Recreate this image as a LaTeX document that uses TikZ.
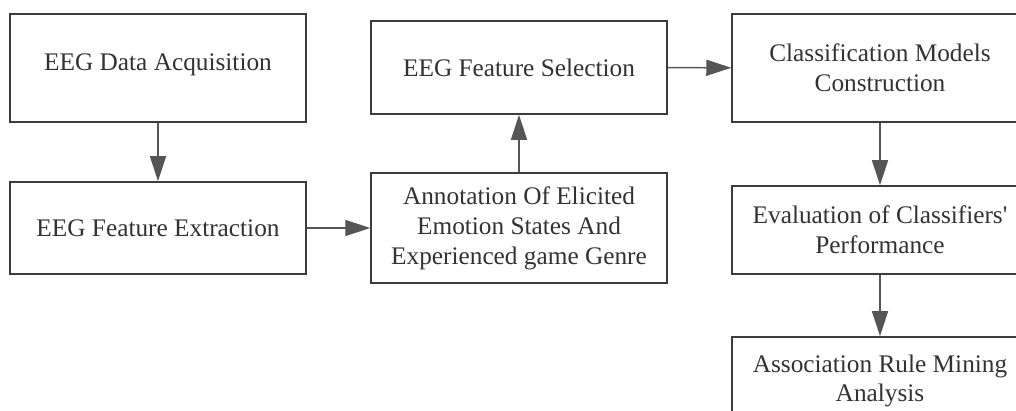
\documentclass[tikz,border=0pt]{standalone}
\usepackage{fontspec}
\setmainfont{Liberation Serif}[Ligatures=TeXOff]
\usetikzlibrary{arrows.meta}

\definecolor{lineColor}{RGB}{85,85,85}
\definecolor{boxColor}{RGB}{60,60,60}
\definecolor{textColor}{RGB}{50,50,50}

\begin{document}
\begin{tikzpicture}[x=0.02cm,y=-0.02cm,
  block/.style={draw=boxColor,line width=0.9pt,minimum width=5.92cm,inner sep=0pt,
    align=center,text=textColor,font=\fontsize{14.4}{17}\selectfont},
  flow/.style={draw=lineColor,line width=0.85pt,-{Triangle[length=0.5cm,width=0.32cm]}}]
  \useasboundingbox (0,0) rectangle (1016,411);
  % Blocks
  \node[block,minimum height=2.16cm,text depth=0.25cm] (acq) at (158,68) {EEG Data Acquisition};
  \node[block,minimum height=1.84cm] (extr) at (158,228) {EEG Feature Extraction};
  \node[block,minimum height=1.86cm] (sel) at (519,67.5) {EEG Feature Selection};
  \node[block,minimum height=2.2cm] (annot) at (519,228) {Annotation Of Elicited\\Emotion States And\\Experienced game Genre};
  \node[block,minimum height=2.16cm] (cls) at (880,68) {Classification Models\\Construction};
  \node[block,minimum height=1.76cm] (eval) at (880,230) {Evaluation of Classifiers'\\Performance};
  \node[block,minimum height=1.76cm] (assoc) at (880,381) {Association Rule Mining\\Analysis};
  % Arrows
  \draw[flow] (acq) -- (extr);
  \draw[flow] (extr) -- (annot);
  \draw[flow] (annot) -- (sel);
  \draw[flow] (sel) -- (cls);
  \draw[flow] (cls) -- (eval);
  \draw[flow] (eval) -- (assoc);
\end{tikzpicture}
\end{document}
